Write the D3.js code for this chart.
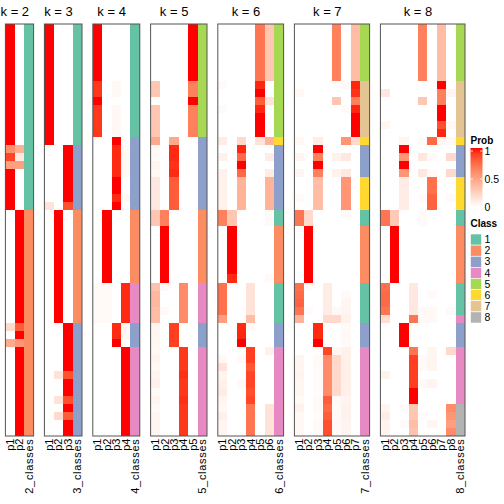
<!DOCTYPE html>
<html><head><meta charset="utf-8">
<script src="https://cdn.jsdelivr.net/npm/d3@7"></script>
<style>body{margin:0;background:#fff}svg{display:block}text{font-family:"Liberation Sans",Arial,Helvetica,sans-serif;fill:#000}</style>
</head><body><svg id="c" width="504" height="504"></svg>
<script>
// ---------------- data ----------------
const kValues = [2,3,4,5,6,7,8];
const classNames = ["1","2","3","4","5","6","7","8"];
const classColors = ["#66C2A5","#FC8D62","#8DA0CB","#E78AC3","#A6D854","#FFD92F","#E5C494","#B3B3B3"];
const probTicks = [0, 0.5, 1];

const classK2 = [1,1,1,1,1,1,1,1,1,1, 1,1,1,1,1,1,1,1,1,1, 1,1,1,2,2,2,2,2,2,2, 2,2,2,2,2,2,2,2,2,2, 2,2,2,2,2,2,2,2,2,2, 2];
const probK2 = [
 [1,1,1,1,1,1,1,1,1,1, 1,1,1,1,1,0.58,0.88,0.5,1,1, 1,1,1,0,0,0,0,0,0,0, 0,0,0,0,0,0,0,0.2,0,0.45, 0,0,0,0,0,0,0,0,0,0, 0],
 [0,0,0,0,0,0,0,0,0,0, 0,0,0,0,0,0.42,0.12,0.5,0,0, 0,0,0,1,1,1,1,1,1,1, 1,1,1,1,1,1,1,0.8,1,0.55, 1,1,1,1,1,1,1,1,1,1, 1]
];

const classK3 = [1,1,1,1,1,1,1,1,1,1, 1,1,1,1,1,3,3,3,3,3, 3,3,3,2,2,2,2,2,2,2, 2,2,2,2,2,2,2,3,3,3, 3,3,3,3,3,3,3,3,3,3, 3];
const probK3 = [
 [1,1,1,1,1,1,1,1,1,1, 1,1,1,1,1,0,0,0,0,0, 0,0,0.15,0,0,0,0,0,0,0, 0,0,0,0,0,0,0,0,0,0, 0,0,0,0,0,0,0,0,0,0, 0],
 [0,0,0,0,0,0,0,0,0,0, 0,0,0,0,0,0,0,0,0,0, 0,0,0,1,1,1,1,1,1,1, 1,1,1,1,1,1,1,0,0,0, 0,0,0,0.15,0,0,0.15,0,0.2,0, 0],
 [0,0,0,0,0,0,0,0,0,0, 0,0,0,0,0,1,1,1,1,1, 1,1,0.85,0,0,0,0,0,0,0, 0,0,0,0,0,0,0,1,1,1, 1,1,1,0.85,1,1,0.85,1,0.8,1, 1]
];

const classK4 = [1,1,1,1,1,1,1,1,1,1, 1,1,1,1,3,3,3,3,3,3, 3,3,3,2,2,2,2,2,2,2, 2,2,4,4,4,4,4,3,3,3, 4,4,4,4,4,4,4,4,4,4, 4];
const probK4 = [
 [1,1,1,1,1,1,1,0.92,0.92,1, 0.92,0.92,0.92,0.92,0,0,0,0,0,0, 0,0,0,0,0,0,0,0,0,0, 0,0,0.03,0.03,0.03,0.03,0.03,0,0,0, 0,0,0,0,0,0,0,0,0,0, 0],
 [0,0,0,0,0,0,0,0,0,0, 0,0,0,0,0,0,0,0,0,0, 0,0,0,1,1,1,1,1,1,1, 1,1,0.03,0.03,0.03,0.03,0.03,0,0,0, 0,0,0,0,0,0,0,0,0,0, 0],
 [0,0,0,0,0,0,0,0.04,0.04,0, 0.04,0.04,0.04,0.04,1,0.95,0.95,0.95,0.95,1, 1,0.95,1,0,0,0,0,0,0,0, 0,0,0,0,0,0,0,0.95,0.95,1, 0,0,0,0,0,0,0,0,0,0, 0],
 [0,0,0,0,0,0,0,0,0,0, 0,0,0,0,0,0.04,0.04,0.04,0.04,0, 0,0.04,0,0,0,0,0,0,0,0, 0,0,0.95,0.95,0.95,0.95,0.95,0.04,0.04,0, 1,1,1,1,1,1,1,1,1,1, 1]
];

const classK5 = [5,5,5,5,5,5,5,5,5,5, 5,5,5,5,3,3,3,3,3,3, 3,3,3,2,2,2,2,2,2,2, 2,2,4,4,4,4,4,3,3,3, 4,4,4,4,4,4,4,4,4,4, 4];
const probK5 = [
 [0,0,0,0,0,0,0,0.3,0.3,0, 0.3,0.3,0.3,0.3,0.45,0.04,0.03,0.06,0.04,0.12, 0.12,0.12,0.12,0.3,0.3,0,0,0,0,0, 0,0,0.32,0.38,0.38,0.35,0.35,0.05,0.05,0.05, 0.04,0.06,0.04,0.06,0.08,0.03,0.06,0.03,0.05,0.05, 0.05],
 [0,0,0,0,0,0,0,0,0,0, 0,0,0,0,0,0,0,0,0,0, 0,0,0,0.65,0.65,1,1,1,1,1, 1,1,0.03,0,0,0.03,0,0,0,0, 0,0,0,0,0,0,0,0,0,0, 0],
 [0,0,0,0,0,0,0,0,0,0, 0,0,0,0,0.45,0.95,0.95,0.93,0.95,0.8, 0.8,0.8,0.8,0,0,0,0,0,0,0, 0,0,0,0,0,0,0,0.9,0.9,0.9, 0,0,0,0,0,0,0,0,0,0, 0],
 [0,0,0,0,0,0,0,0,0,0, 0,0,0,0,0,0,0,0,0,0, 0,0,0,0,0,0,0,0,0,0, 0,0,0.6,0.6,0.6,0.6,0.6,0,0,0, 0.92,0.92,0.92,0.94,0.92,0.92,0.94,0.92,0.92,0.92, 0.92],
 [1,1,1,1,1,1,1,0.65,0.65,1, 0.65,0.65,0.65,0.65,0,0,0,0,0,0, 0,0,0,0,0,0,0,0,0,0, 0,0,0,0,0,0,0,0,0,0, 0,0,0,0,0,0,0,0,0,0, 0]
];

const classK6 = [5,5,5,5,5,5,5,5,5,5, 5,5,5,5,6,3,3,3,3,3, 3,3,3,1,1,2,2,2,2,2, 2,2,1,1,1,1,1,3,3,3, 4,4,4,4,4,4,4,4,4,4, 4];
const probK6 = [
 [0,0,0,0,0,0,0,0.03,0,0, 0.03,0,0,0,0.1,0,0.07,0,0.07,0.07, 0.07,0.07,0.07,0.65,0.65,0,0,0,0,0, 0,0,0.72,0.72,0.72,0.72,0.5,0,0,0, 0,0.04,0.15,0.06,0.08,0.1,0.05,0.04,0.08,0.05, 0.06],
 [0,0,0,0,0,0,0,0,0,0, 0,0,0,0,0,0,0,0,0,0, 0,0,0,0.3,0.3,1,1,1,1,1, 1,0.95,0,0,0,0,0,0,0,0, 0,0,0,0,0,0,0,0,0,0, 0],
 [0,0,0,0,0,0,0,0,0,0, 0,0,0,0,0.2,0.96,0.75,1,0.75,0.4, 0.4,0.4,0.4,0,0,0,0,0,0,0, 0,0,0,0,0,0,0,0.95,0.96,1, 0,0.03,0,0,0.03,0,0,0,0,0, 0],
 [0,0,0,0,0,0,0,0,0,0, 0,0,0,0,0,0,0,0,0,0, 0,0,0,0,0,0,0,0,0,0, 0,0,0.15,0.15,0.15,0.15,0.35,0.03,0,0, 0.9,0.9,0.82,0.88,0.88,0.85,0.88,0.7,0.7,0.7, 0.7],
 [0.7,0.7,0.7,0.7,0.7,0.7,0.7,0.96,1,0.8, 0.96,1,1,1,0.15,0,0,0,0,0, 0,0,0,0,0,0,0,0,0,0, 0,0,0,0,0,0,0,0,0,0, 0,0,0,0,0,0,0,0,0,0, 0],
 [0.3,0.3,0.3,0.3,0.3,0.3,0.3,0,0,0.15, 0,0,0,0,0.4,0,0.1,0,0.1,0.4, 0.4,0.4,0.4,0.03,0.03,0,0,0,0,0, 0,0.03,0,0,0,0,0,0,0,0, 0.07,0,0,0,0,0,0,0.15,0.15,0.15, 0.15]
];

const classK7 = [5,5,5,5,5,5,5,7,7,7, 7,7,7,7,6,3,3,3,3,6, 6,6,6,1,1,2,2,2,2,2, 2,2,1,1,1,1,1,3,3,3, 4,4,4,4,4,4,4,4,4,4, 4];
const probK7 = [
 [0,0,0,0,0,0,0,0,0.04,0, 0,0,0,0,0.04,0,0.05,0,0.05,0, 0,0.03,0,0.7,0.7,0,0,0,0,0, 0,0,0.72,0.75,0.78,0.7,0.4,0,0,0, 0,0.05,0.05,0.06,0.05,0.05,0.03,0.07,0.04,0.04, 0.04],
 [0,0,0,0,0,0,0,0,0,0, 0,0,0,0,0,0,0,0,0,0, 0,0,0,0.2,0.2,1,1,1,1,1, 1,1,0.02,0,0,0.02,0,0,0,0, 0,0,0,0,0,0,0,0,0,0, 0],
 [0,0,0,0,0,0,0,0,0,0, 0,0,0,0,0.1,1,0.65,1,0.65,0.35, 0.35,0.35,0.35,0,0,0,0,0,0,0, 0,0,0,0,0,0,0,0.95,0.95,1, 0,0.03,0.03,0.02,0.02,0.02,0.03,0.03,0.02,0.03, 0.03],
 [0,0,0,0,0,0,0,0,0,0, 0,0,0,0,0,0,0,0,0,0, 0,0,0,0,0,0,0,0,0,0, 0,0,0.1,0.1,0.1,0.1,0.2,0,0,0, 0.88,0.6,0.6,0.6,0.6,0.6,0.8,0.75,0.8,0.85, 0.85],
 [0.65,0.65,0.65,0.65,0.65,0.65,0.65,0,0,0.3, 0,0,0,0,0,0,0.07,0,0.07,0, 0,0,0,0,0,0,0,0,0,0, 0,0,0,0,0,0.04,0.2,0,0,0, 0.05,0.2,0.2,0.2,0.2,0.2,0.03,0.03,0.03,0.03, 0.03],
 [0,0,0,0,0,0,0,0.03,0,0, 0.03,0,0,0,0.55,0,0.12,0,0.12,0.55, 0.55,0.55,0.55,0.03,0,0,0,0,0,0, 0,0,0,0.03,0.05,0.05,0.07,0.03,0.03,0.03, 0.07,0.08,0.08,0.08,0.08,0.08,0.06,0.07,0.07,0.06, 0.06],
 [0.35,0.35,0.35,0.35,0.35,0.35,0.35,0.96,0.93,0.65, 0.96,1,1,1,0.2,0,0,0,0,0, 0,0,0,0,0,0,0,0,0,0, 0,0,0,0,0,0,0,0,0,0, 0,0,0,0,0,0,0,0,0,0, 0]
];

const classK8 = [5,5,5,5,5,5,5,7,7,7, 7,7,7,7,6,3,3,3,3,6, 6,6,6,1,1,2,2,2,2,2, 2,2,1,1,1,1,4,3,3,3, 4,4,4,4,4,4,4,8,8,8, 8];
const probK8 = [
 [0,0,0,0,0,0,0,0,0.12,0, 0,0,0.05,0,0,0,0,0,0,0, 0,0,0,0.7,0.7,0,0,0,0,0, 0,0,0.72,0.75,0.75,0.7,0.18,0,0,0, 0,0,0,0.07,0,0,0,0.06,0.1,0.06, 0.06],
 [0,0,0,0,0,0,0,0,0,0, 0,0,0,0,0,0,0,0,0,0, 0,0,0,0.28,0.28,1,1,1,1,1, 1,1,0,0,0,0,0,0,0,0, 0,0,0,0,0,0,0,0,0,0, 0],
 [0,0,0,0,0,0,0,0,0,0, 0,0,0,0,0.05,1,0.55,1,0.55,0.1, 0.1,0.1,0.1,0,0,0,0,0,0,0, 0,0,0,0,0,0,0,1,1,1, 0,0,0,0,0,0,0,0.02,0,0.02, 0],
 [0,0,0,0,0,0,0,0,0,0, 0,0,0,0,0,0,0,0,0,0, 0,0,0,0,0,0,0,0,0,0, 0,0,0.12,0.12,0.12,0.12,0.7,0,0,0, 0.7,0.9,0.9,0.9,0.9,1,1,0.3,0.3,0.35, 0.32],
 [0.65,0.65,0.65,0.65,0.65,0.65,0.65,0,0,0.3, 0,0,0,0,0.03,0,0.12,0,0.12,0, 0,0.03,0,0.03,0.03,0,0,0,0,0, 0,0,0,0,0,0.03,0.03,0,0,0, 0,0.03,0.03,0,0.03,0,0,0,0.02,0, 0],
 [0,0,0,0,0,0,0,0,0,0, 0,0,0,0,0.75,0,0.03,0,0.03,0.72, 0.72,0.78,0.78,0,0,0,0,0,0,0, 0,0,0,0.03,0,0.04,0.04,0,0,0, 0.05,0.05,0.05,0,0.06,0,0,0,0,0.05, 0],
 [0.35,0.35,0.35,0.35,0.35,0.35,0.35,1,0.65,0.65, 1,1,0.85,0.96,0.05,0,0,0,0,0, 0,0,0,0,0,0,0,0,0,0, 0,0,0,0,0,0,0,0,0,0, 0,0,0,0,0,0,0,0,0,0, 0],
 [0,0,0,0,0,0,0,0,0.05,0, 0,0,0.04,0,0.04,0,0.2,0,0.2,0, 0,0.03,0,0,0,0,0,0,0,0, 0,0,0,0,0,0.03,0,0,0,0, 0.2,0,0,0,0,0,0,0.6,0.55,0.5, 0.6]
];

const panels = [
  {k:2, cls:classK2, prob:probK2},
  {k:3, cls:classK3, prob:probK3},
  {k:4, cls:classK4, prob:probK4},
  {k:5, cls:classK5, prob:probK5},
  {k:6, cls:classK6, prob:probK6},
  {k:7, cls:classK7, prob:probK7},
  {k:8, cls:classK8, prob:probK8}
];

// ---------------- drawing ----------------
const svg = d3.select("#c");
const yTop = 24, yBottom = 436;
const colW = 9.4, gap = 10.8, left0 = 5.4;
const nRows = classK2.length;

const yRow = d3.scaleBand().domain(d3.range(nRows)).range([yTop, yBottom]).paddingInner(0).paddingOuter(0);
const probColor = d3.scaleLinear().domain([0,1]).range(["#ffffff","#ff0000"]).interpolate(d3.interpolateLab);
const classColor = d3.scaleOrdinal().domain(classNames).range(classColors);

let x0 = left0;
panels.forEach(p => {
  const nCols = p.k + 1;
  const w = nCols * colW;
  const colNames = d3.range(1, p.k + 1).map(i => "p" + i).concat([p.k + "_classes"]);
  const xCol = d3.scaleBand().domain(colNames).range([x0, x0 + w]);
  const g = svg.append("g");

  p.prob.forEach((col, ci) => {
    g.append("g").selectAll("rect").data(col).join("rect")
      .attr("x", xCol(colNames[ci]))
      .attr("y", (d, i) => yRow(i))
      .attr("width", xCol.bandwidth() + 0.3)
      .attr("height", yRow.bandwidth() + 0.3)
      .attr("fill", d => probColor(d))
      .attr("shape-rendering", "crispEdges");
  });
  g.append("g").selectAll("rect").data(p.cls).join("rect")
    .attr("x", xCol(colNames[p.k]))
    .attr("y", (d, i) => yRow(i))
    .attr("width", xCol.bandwidth())
    .attr("height", yRow.bandwidth() + 0.3)
    .attr("fill", d => classColor(String(d)))
    .attr("shape-rendering", "crispEdges");

  g.append("rect").attr("x", x0).attr("y", yTop).attr("width", w).attr("height", yBottom - yTop)
    .attr("fill", "none").attr("stroke", "#555").attr("stroke-width", 1);

  const pEnd = xCol(colNames[p.k]);
  g.append("text").attr("x", (x0 + pEnd) / 2).attr("y", 15.5)
    .attr("text-anchor", "middle").style("font-size", "13px").text("k = " + p.k);

  colNames.forEach((nm, ci) => {
    const cx = xCol(nm) + xCol.bandwidth() / 2;
    g.append("text")
      .attr("transform", `translate(${cx},${yBottom + 2.5}) rotate(-90)`)
      .attr("text-anchor", "end").attr("dy", "0.35em")
      .style("font-size", "11px")
      .style("letter-spacing", ci === p.k ? "0.7px" : "0px")
      .text(nm);
  });

  x0 += w + gap;
});

// ---------------- legends ----------------
const lx = 470.5;
svg.append("text").attr("x", lx).attr("y", 143.5).style("font-size", "10px").style("font-weight", "bold").text("Prob");
const yProb = d3.scaleLinear().domain([0,1]).range([207, 151]);
const defs = svg.append("defs");
const grad = defs.append("linearGradient").attr("id", "pg").attr("x1", 0).attr("y1", 1).attr("x2", 0).attr("y2", 0);
d3.range(0, 1.0001, 0.1).forEach(t => grad.append("stop").attr("offset", t).attr("stop-color", probColor(t)));
svg.append("rect").attr("x", lx).attr("y", yProb(1) - 3).attr("width", 12).attr("height", yProb(0) - yProb(1) + 3).attr("fill", "url(#pg)");
probTicks.forEach(v => {
  svg.append("line").attr("x1", lx).attr("x2", lx + 2.5).attr("y1", yProb(v)).attr("y2", yProb(v)).attr("stroke", "#fff").attr("stroke-width", 0.8);
  svg.append("line").attr("x1", lx + 9.5).attr("x2", lx + 12).attr("y1", yProb(v)).attr("y2", yProb(v)).attr("stroke", "#fff").attr("stroke-width", 0.8);
  svg.append("text").attr("x", lx + 14).attr("y", yProb(v)).attr("dy", "0.35em").style("font-size", "10.5px").text(String(v));
});

svg.append("text").attr("x", lx).attr("y", 227).style("font-size", "10px").style("font-weight", "bold").text("Class");
const yCls = d3.scaleBand().domain(classNames).range([234, 323]);
classNames.forEach(c => {
  svg.append("rect").attr("x", lx).attr("y", yCls(c)).attr("width", 11).attr("height", yCls.bandwidth())
    .attr("fill", classColor(c)).attr("stroke", "#fff").attr("stroke-width", 0.6);
  svg.append("text").attr("x", lx + 14).attr("y", yCls(c) + yCls.bandwidth() / 2).attr("dy", "0.35em")
    .style("font-size", "10.5px").text(c);
});
</script>
</body></html>
